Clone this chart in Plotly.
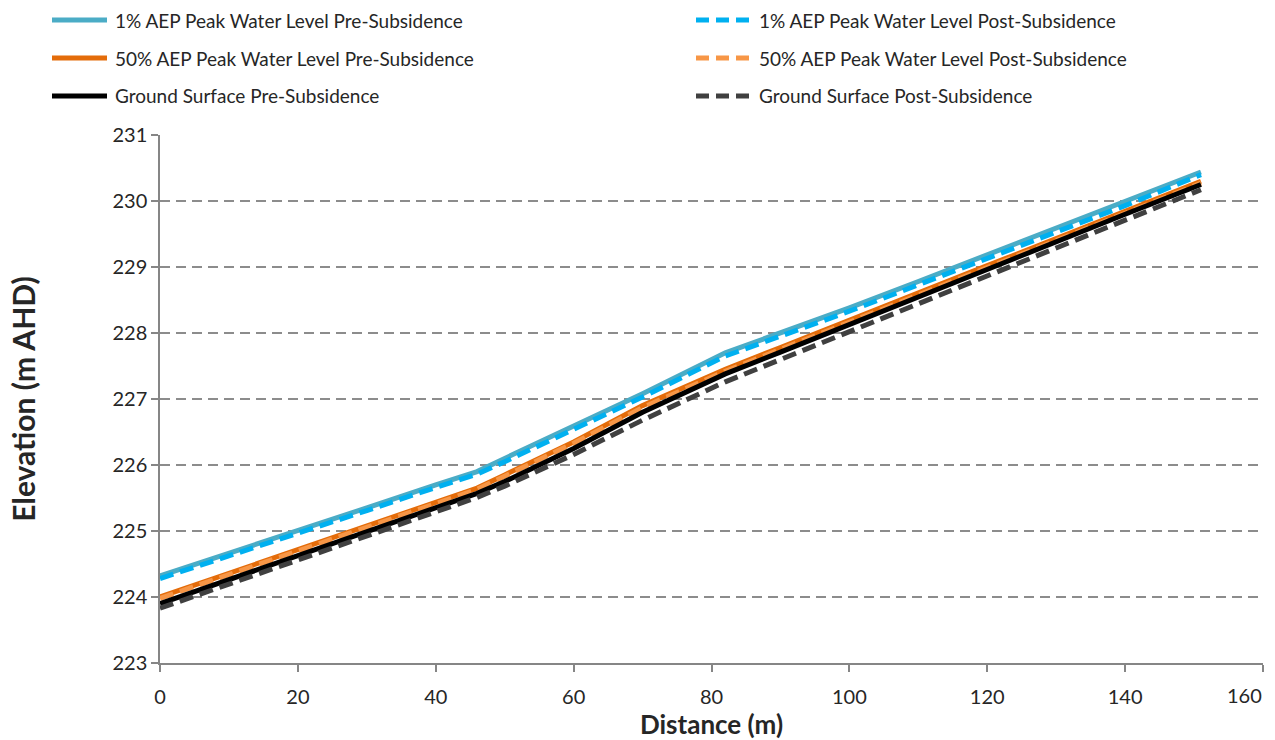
import plotly.graph_objects as go

distance = [0, 10, 20, 30, 40, 46, 50, 60, 70, 82, 90, 100, 110, 120, 130, 140, 151]

aep1_pre = [224.32, 224.66, 225.00, 225.35, 225.70, 225.90, 226.10, 226.58, 227.08, 227.70,
            228.00, 228.38, 228.78, 229.18, 229.58, 229.98, 230.44]
aep1_post = [224.28, 224.62, 224.96, 225.31, 225.66, 225.86, 226.05, 226.53, 227.03, 227.65,
             227.95, 228.33, 228.73, 229.13, 229.53, 229.93, 230.40]
aep50_pre = [224.00, 224.36, 224.71, 225.07, 225.43, 225.65, 225.85, 226.35, 226.90, 227.45,
             227.78, 228.20, 228.61, 229.02, 229.43, 229.85, 230.30]
aep50_post = [223.98, 224.34, 224.69, 225.05, 225.41, 225.63, 225.83, 226.33, 226.87, 227.42,
              227.75, 228.17, 228.58, 228.99, 229.40, 229.82, 230.27]
ground_pre = [223.90, 224.26, 224.62, 224.98, 225.35, 225.57, 225.75, 226.25, 226.80, 227.38,
              227.71, 228.13, 228.55, 228.97, 229.38, 229.80, 230.25]
ground_post = [223.83, 224.20, 224.56, 224.92, 225.29, 225.51, 225.68, 226.16, 226.68, 227.26,
               227.60, 228.02, 228.44, 228.86, 229.28, 229.71, 230.17]

names = ["1% AEP Peak Water Level Pre-Subsidence", "1% AEP Peak Water Level Post-Subsidence",
         "50% AEP Peak Water Level Pre-Subsidence", "50% AEP Peak Water Level Post-Subsidence",
         "Ground Surface Pre-Subsidence", "Ground Surface Post-Subsidence"]
series = [aep1_pre, aep1_post, aep50_pre, aep50_post, ground_pre, ground_post]
colors = ["#4BACC6", "#00B0F0", "#E46C0A", "#F79646", "#000000", "#404040"]
dashes = ["solid", "14px,7px", "solid", "14px,7px", "solid", "14px,7px"]

x_ticks = [0, 20, 40, 60, 80, 100, 120, 140]
x_last_tick = 160
y_ticks = [223, 224, 225, 226, 227, 228, 229, 230, 231]

FONT = "Lato"
TXT = "#262626"
AX = "#868686"

fig = go.Figure()
for nm, ys, c, d in zip(names, series, colors, dashes):
    fig.add_trace(go.Scatter(x=distance, y=ys, mode="lines", name=nm,
                             line=dict(color=c, width=5, dash=d), showlegend=False))

# Manual legend (two columns, three rows)
L, T, R, B = 160, 135, 12, 77
W, H = 1275 - L - R, 740 - T - B
def px2paper(px, py):
    return (px - L) / W, (T + H - py) / H

col_x = [52, 696]
row_y = [20, 58, 96]
for i, (nm, c, d) in enumerate(zip(names, colors, dashes)):
    col = i % 2
    row = i // 2
    x0, y0 = px2paper(col_x[col], row_y[row])
    x1, _ = px2paper(col_x[col] + 55, row_y[row])
    fig.add_shape(type="line", xref="paper", yref="paper", x0=x0, x1=x1, y0=y0, y1=y0,
                  line=dict(color=c, width=5, dash=("solid" if d == "solid" else "13px,7px")))
    tx, ty = px2paper(col_x[col] + 61, row_y[row])
    fig.add_annotation(x=tx, y=ty, xref="paper", yref="paper", text=nm, showarrow=False,
                       xanchor="left", yanchor="middle",
                       font=dict(family=FONT, size=19, color=TXT))

# last x tick label, shifted inward like the original
fig.add_annotation(x=x_last_tick, y=0, xref="x", yref="paper", text=str(x_last_tick),
                   showarrow=False, xanchor="right", yanchor="top", yshift=-18, xshift=1,
                   font=dict(family=FONT, size=20, color=TXT))

fig.update_layout(
    width=1275, height=740,
    margin=dict(l=L, r=R, t=T, b=B),
    paper_bgcolor="white", plot_bgcolor="white",
    font=dict(family=FONT, size=19, color=TXT),
    showlegend=False,
)
fig.update_xaxes(range=[0, 160], tickvals=x_ticks + [x_last_tick],
                 ticktext=[str(v) for v in x_ticks] + [""],
                 showgrid=False, zeroline=False,
                 showline=True, linecolor=AX, linewidth=1.5,
                 ticks="outside", ticklen=7, tickcolor=AX, tickwidth=1.5,
                 ticklabelstandoff=8, automargin=False,
                 tickfont=dict(family=FONT, size=20, color=TXT),
                 title=dict(text="<b>Distance (m)</b>", font=dict(family=FONT, size=26, color=TXT),
                            standoff=12))
fig.update_yaxes(range=[223, 231], tickvals=y_ticks, showgrid=True, gridcolor="#8C8C8C",
                 gridwidth=1.5, griddash="10px,6px", zeroline=False,
                 showline=True, linecolor=AX, linewidth=1.5,
                 ticks="outside", ticklen=7, tickcolor=AX, tickwidth=1.5,
                 automargin=False,
                 tickfont=dict(family=FONT, size=20, color=TXT),
                 title=dict(text="<b>Elevation (m AHD)</b>", font=dict(family=FONT, size=30, color=TXT),
                            standoff=68))

fig.write_html("out.html", config={"displayModeBar": False},
               post_script="document.body.style.margin='0';document.body.style.padding='0';")
